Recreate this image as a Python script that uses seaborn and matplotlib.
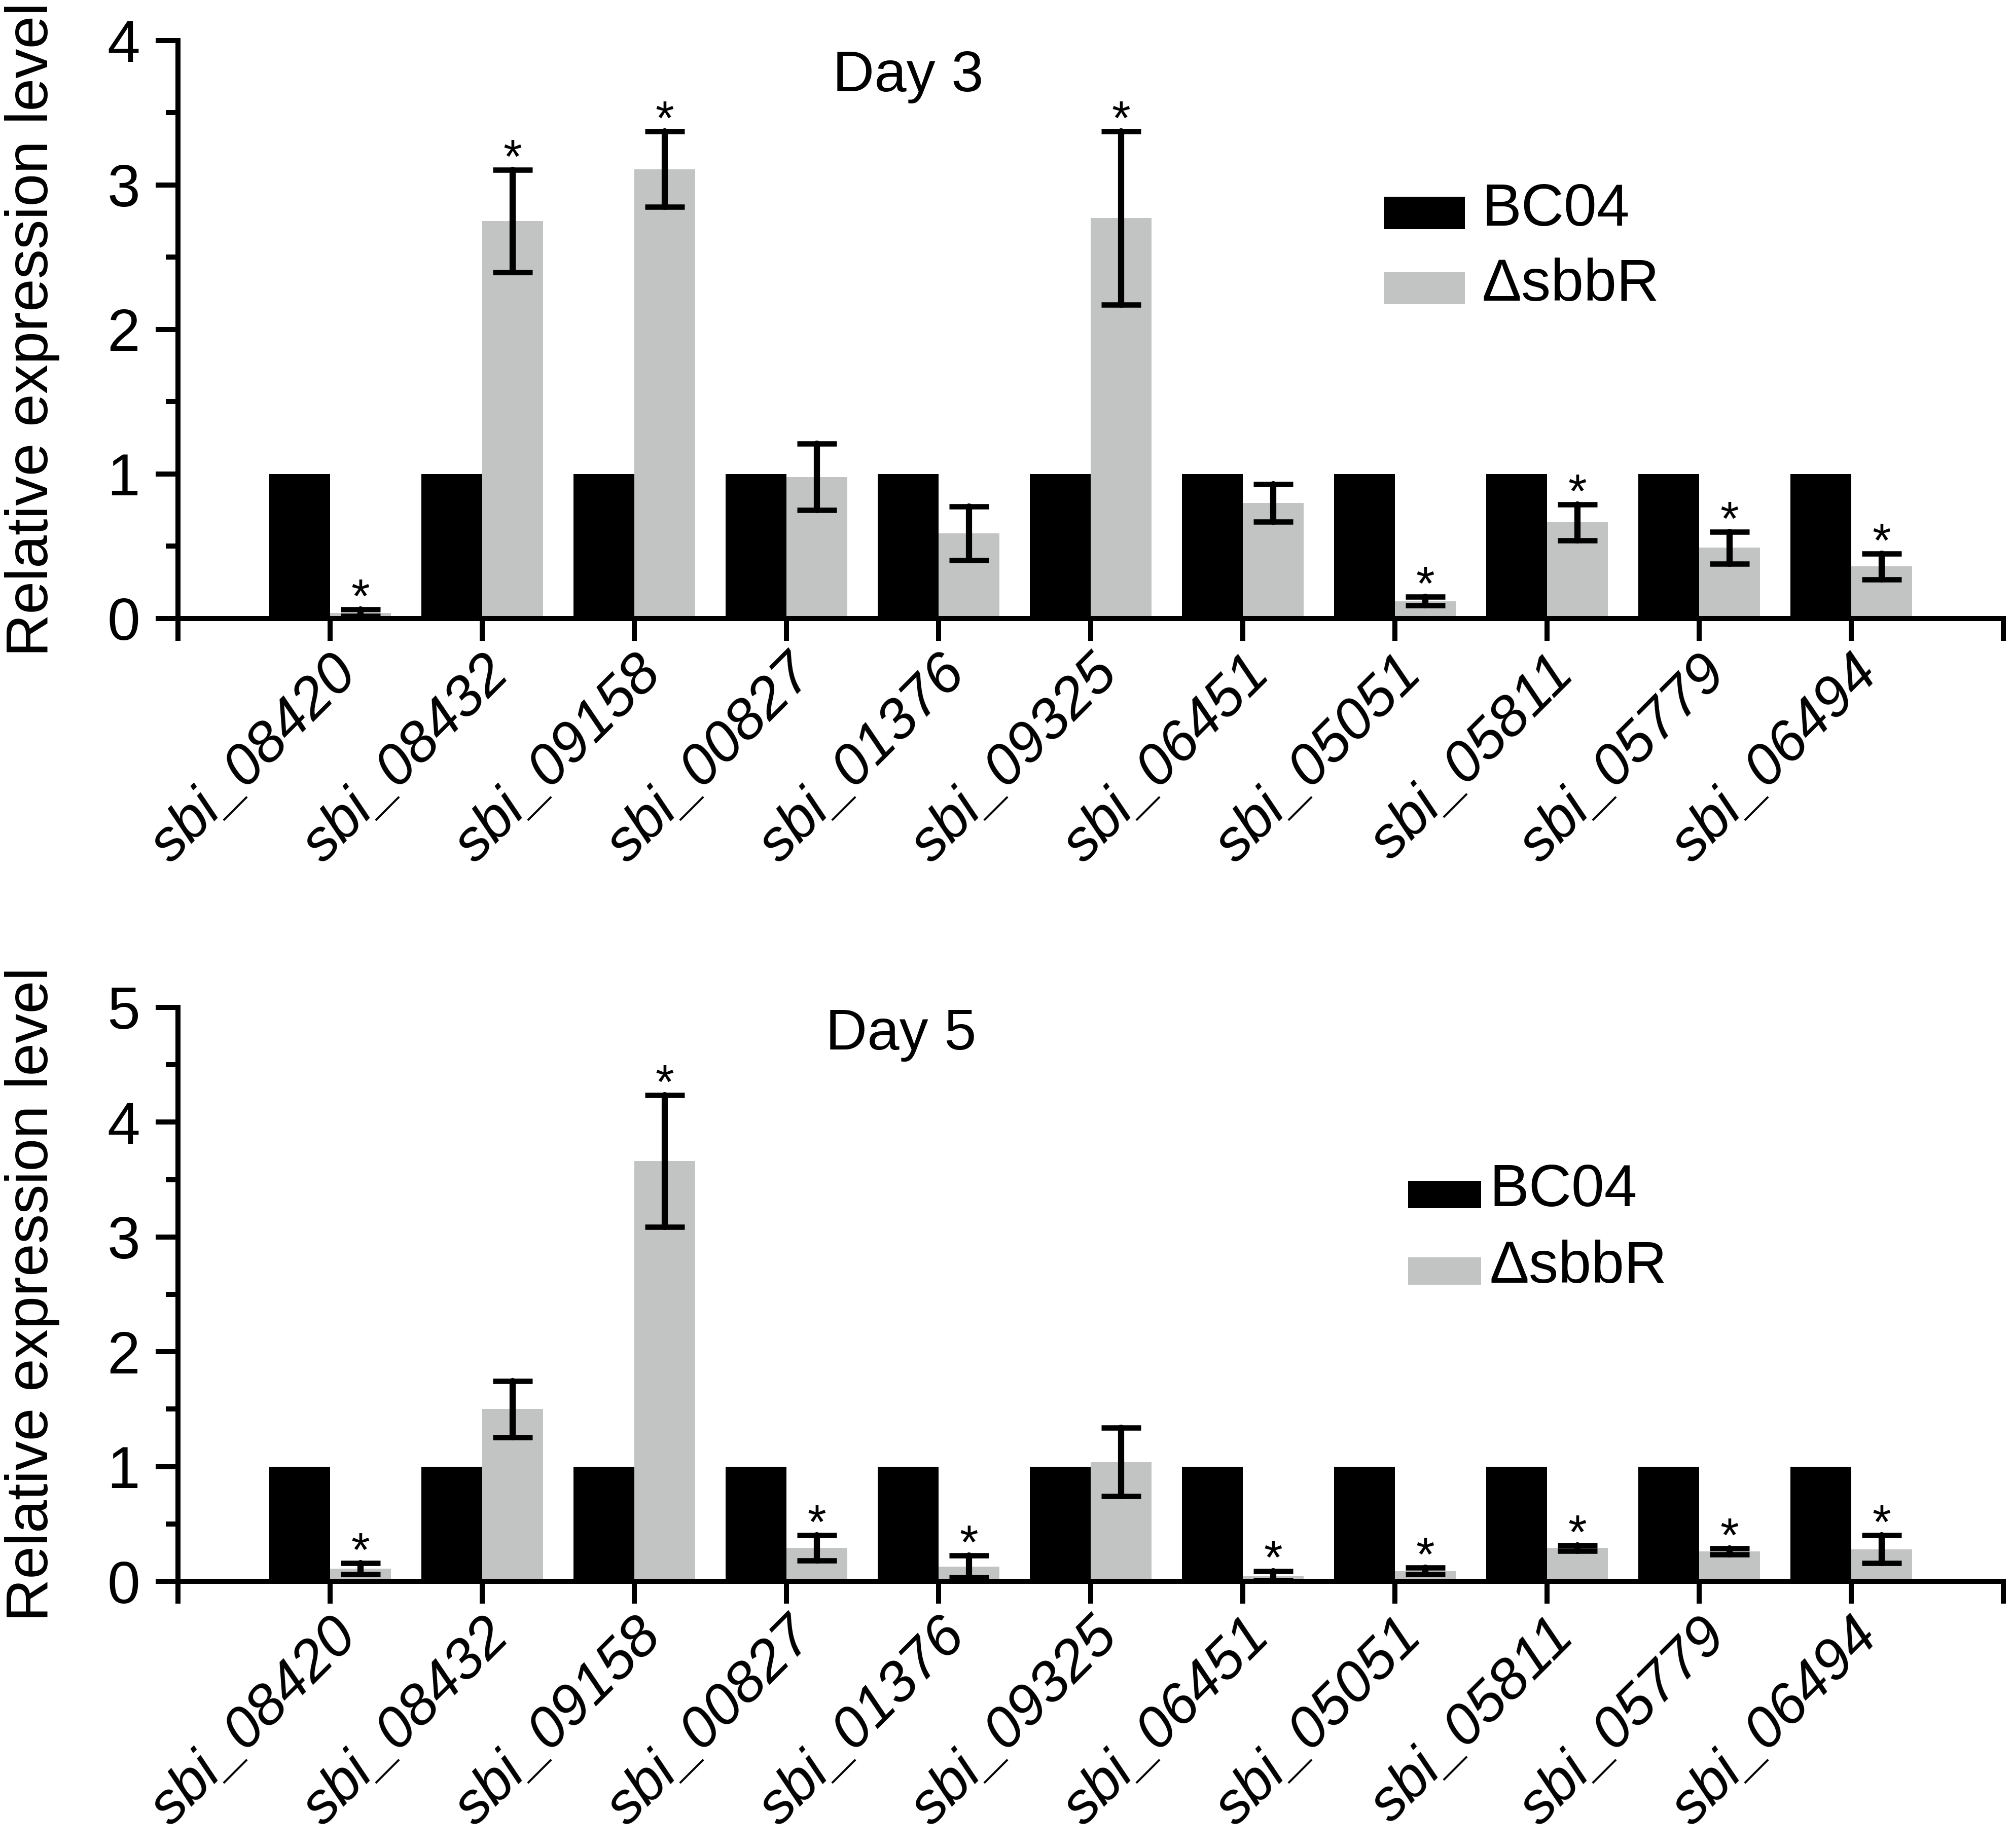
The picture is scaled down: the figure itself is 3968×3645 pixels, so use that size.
import matplotlib
matplotlib.use("Agg")
import matplotlib.pyplot as plt
import matplotlib.patches as mpatches
from matplotlib.legend_handler import HandlerPatch
from matplotlib.ticker import MultipleLocator
import matplotlib.transforms as mtransforms
import seaborn as sns
import pandas as pd

# data
genes = ["sbi_08420", "sbi_08432", "sbi_09158", "sbi_00827", "sbi_01376", "sbi_09325",
         "sbi_06451", "sbi_05051", "sbi_05811", "sbi_05779", "sbi_06494"]
strains = ["BC04", "\u0394sbbR"]

bc04_day3 = [1.0, 1.0, 1.0, 1.0, 1.0, 1.0, 1.0, 1.0, 1.0, 1.0, 1.0]
mut_day3 = [0.04, 2.75, 3.11, 0.98, 0.59, 2.77, 0.80, 0.12, 0.665, 0.49, 0.36]
err_day3 = [0.023, 0.355, 0.26, 0.23, 0.185, 0.60, 0.13, 0.03, 0.125, 0.11, 0.09]
sig_day3 = [True, True, True, False, False, True, False, True, True, True, True]

bc04_day5 = [1.0, 1.0, 1.0, 1.0, 1.0, 1.0, 1.0, 1.0, 1.0, 1.0, 1.0]
mut_day5 = [0.11, 1.50, 3.66, 0.29, 0.13, 1.04, 0.05, 0.09, 0.29, 0.26, 0.28]
err_day5 = [0.05, 0.245, 0.575, 0.11, 0.095, 0.30, 0.04, 0.028, 0.025, 0.025, 0.12]
sig_day5 = [True, False, True, True, True, False, True, True, True, True, True]

BLACK = "#000000"
GREY = "#c1c4c3"
FS = 42

sns.set_theme(style="ticks", rc={
    "axes.edgecolor": "black", "axes.labelcolor": "black", "text.color": "black",
    "xtick.color": "black", "ytick.color": "black",
})
plt.rcParams["font.family"] = ["Liberation Sans", "DejaVu Sans"]


def box_handler(frac, drop):
    # legend swatch: height frac*fontsize, bottom drop*fontsize below the baseline
    def make(legend, orig_handle, xdescent, ydescent, width, height, fontsize):
        return mpatches.Rectangle((-xdescent, -drop * fontsize), width, frac * fontsize)
    return HandlerPatch(patch_func=make)


def panel(ax, bc, mut, err, sig, ymax, title, title_xy, leg_xy, leg_opts):
    df = pd.DataFrame({
        "gene": genes + genes,
        "strain": [strains[0]] * len(genes) + [strains[1]] * len(genes),
        "value": bc + mut,
    })
    sns.barplot(data=df, x="gene", y="value", hue="strain", order=genes, hue_order=strains,
                palette=[BLACK, GREY], saturation=1, width=0.8, errorbar=None,
                linewidth=0, ax=ax)

    xs = [p.get_x() + p.get_width() / 2 for p in ax.containers[1]]
    eb = ax.errorbar(xs, mut, yerr=err, fmt="none", ecolor="black", elinewidth=4.4,
                     capsize=14, capthick=3.8, zorder=5)
    for coll in eb[2]:
        coll.set_capstyle("round")
    for x, v, e, s in zip(xs, mut, err, sig):
        if s:
            ax.annotate("*", (x, v + e), xytext=(0, -2), textcoords="offset points",
                        ha="center", va="baseline", fontsize=34, zorder=6)

    ax.set_xlim(-1, len(genes))
    ax.set_ylim(0, ymax)
    ax.set_xticks(range(-1, len(genes) + 1))
    ax.set_xticklabels([""] + genes + [""], rotation=45, ha="right", va="top",
                       rotation_mode="anchor", fontstyle="italic", fontsize=41)
    off = mtransforms.ScaledTranslation(6 / 72, 0, ax.figure.dpi_scale_trans)
    for lab in ax.get_xticklabels():
        lab.set_transform(lab.get_transform() + off)
    ax.yaxis.set_major_locator(MultipleLocator(1))
    ax.yaxis.set_minor_locator(MultipleLocator(0.5))
    ax.tick_params(axis="both", which="major", length=16, width=3.6)
    ax.tick_params(axis="x", pad=4)
    ax.tick_params(axis="y", pad=11, labelsize=FS)
    ax.tick_params(axis="y", which="minor", length=8.5, width=3.6)
    sns.despine(ax=ax)
    for side in ["left", "bottom"]:
        ax.spines[side].set_linewidth(3.6)

    ax.set_xlabel("")
    ax.set_ylabel("Relative expression level", fontsize=FS)
    ax.yaxis.set_label_coords(-0.0647, 0.5)

    ax.text(title_xy[0], title_xy[1], title, transform=ax.transAxes, ha="center",
            va="baseline", fontsize=41)

    handles, labels = ax.get_legend_handles_labels()
    ax.legend(handles, labels, loc="upper left", bbox_to_anchor=leg_xy, frameon=False,
              fontsize=FS, borderpad=0, borderaxespad=0,
              handlelength=leg_opts["hl"], handletextpad=leg_opts["pad"],
              labelspacing=leg_opts["sp"],
              handler_map={h: box_handler(leg_opts["h"], leg_opts["drop"]) for h in handles})


fig = plt.figure(figsize=(19.84, 18.225), dpi=200)
ax1 = fig.add_axes([0.0885, 0.6653, 0.9072, 0.3128])
ax2 = fig.add_axes([0.0885, 0.1443, 0.9072, 0.3106])

panel(ax1, bc04_day3, mut_day3, err_day3, sig_day3, 4, "Day 3", (0.400, 0.912),
      (0.6606, 0.754), {"hl": 1.37, "pad": 0.29, "sp": 0.33, "h": 0.55, "drop": 0.06})
panel(ax2, bc04_day5, mut_day5, err_day5, sig_day5, 5, "Day 5", (0.396, 0.927),
      (0.674, 0.729), {"hl": 1.23, "pad": 0.14, "sp": 0.36, "h": 0.46, "drop": 0.035})

fig.savefig("out.png", dpi=200, facecolor="white")
